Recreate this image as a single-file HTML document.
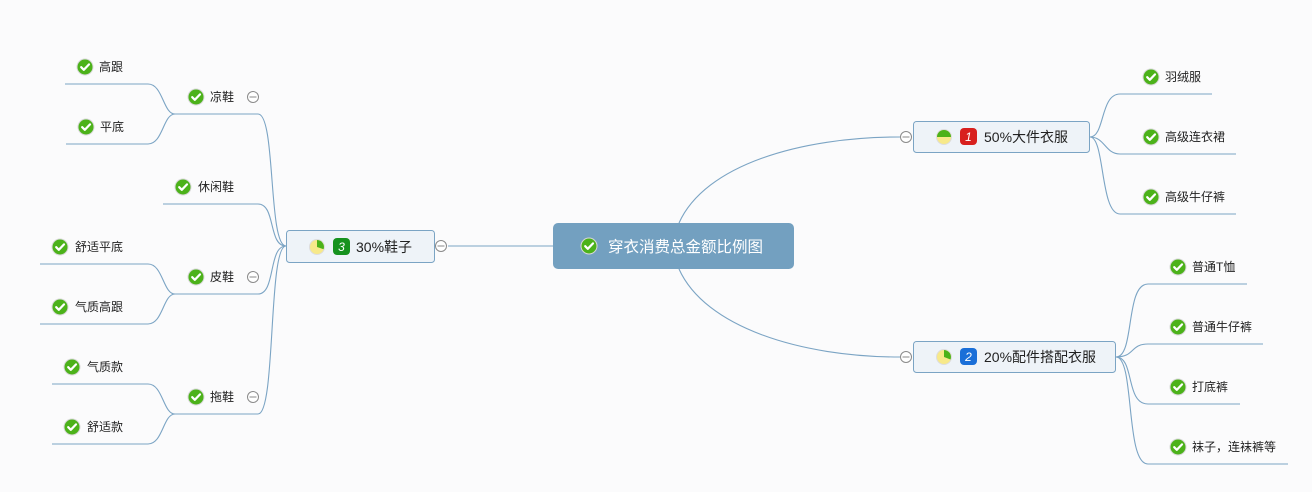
<!DOCTYPE html>
<html><head><meta charset="utf-8">
<style>
html,body{margin:0;padding:0;background:#fbfbfc;}
svg{display:block;}
text{font-family:"Liberation Sans","Microsoft YaHei","Noto Sans CJK SC",sans-serif;}
</style></head>
<body>
<svg width="1312" height="492" viewBox="0 0 1312 492" xmlns="http://www.w3.org/2000/svg">
<defs>
 <g id="chk">
  <circle r="8.5" fill="#d8d8d8"/>
  <circle r="7.5" fill="#4cb21a"/>
  <path d="M-3.8,0.2 L-1.2,2.8 L4,-2.6" stroke="#fff" stroke-width="2.2" fill="none" stroke-linecap="round" stroke-linejoin="round"/>
 </g>
 <g id="col">
  <circle r="5.5" fill="#fff" stroke="#8a8a8a" stroke-width="1"/>
  <line x1="-3.5" y1="0" x2="3.5" y2="0" stroke="#8a8a8a" stroke-width="1"/>
 </g>
</defs>
<g fill="none" stroke="#7ba4c4" stroke-width="1.1">
 <!-- center connectors -->
 <path d="M448,246 H553"/>
 <path d="M679,223 C705,165 800,137 900,137"/>
 <path d="M679,269 C705,327 800,357 900,357"/>
 <!-- left -->
 <path d="M65,84 H148 C163,84 163,114 175,114"/>
 <path d="M66,144 H148 C163,144 163,114 175,114"/>
 <path d="M175,114 H258 C276,114 268,246 286,246"/>
 <path d="M163,204 H258 C276,204 268,246 286,246"/>
 <path d="M40,264 H148 C163,264 163,294 175,294"/>
 <path d="M40,324 H148 C163,324 163,294 175,294"/>
 <path d="M175,294 H258 C276,294 268,246 286,246"/>
 <path d="M52,384 H148 C163,384 163,414 175,414"/>
 <path d="M52,444 H148 C163,444 163,414 175,414"/>
 <path d="M175,414 H258 C276,414 268,246 286,246"/>
 <!-- right top -->
 <path d="M1090,137 C1105,137 1100,94 1120,94 H1212"/>
 <path d="M1090,137 C1105,137 1105,154 1120,154 H1236"/>
 <path d="M1090,137 C1105,137 1100,214 1120,214 H1236"/>
 <!-- right bottom -->
 <path d="M1116,357 C1135,357 1125,284 1148,284 H1247"/>
 <path d="M1116,357 C1135,357 1130,344 1148,344 H1263"/>
 <path d="M1116,357 C1135,357 1125,404 1148,404 H1240"/>
 <path d="M1116,357 C1135,357 1125,464 1148,464 H1288"/>
</g>
<!-- central -->
<rect x="553" y="223" width="241" height="46" rx="5" fill="#73a0c0"/>
<use href="#chk" x="589" y="246"/>
<text x="608" y="252" font-size="15.5" fill="#fff">穿衣消费总金额比例图</text>
<!-- left main -->
<rect x="286.5" y="230.5" width="148" height="32" rx="3" fill="#eef3f8" stroke="#7ba4c4"/>
<circle cx="317" cy="247" r="8" fill="#ddd"/>
<circle cx="317" cy="247" r="7" fill="#f7e98a"/>
<path d="M317,247 L317,240 A7,7 0 0 1 323.6,249.3 Z" fill="#4cb21a"/>
<rect x="333" y="238" width="17" height="17" rx="4" fill="#16921e"/>
<text x="341.5" y="251" font-size="12" fill="#fff" text-anchor="middle" font-style="italic">3</text>
<text x="356" y="252" font-size="14" fill="#222">30%鞋子</text>
<use href="#col" x="441" y="246"/>
<!-- right top main -->
<rect x="913.5" y="121.5" width="176" height="31" rx="3" fill="#eef3f8" stroke="#7ba4c4"/>
<circle cx="944" cy="137" r="8" fill="#ddd"/>
<circle cx="944" cy="137" r="7" fill="#f7e98a"/>
<path d="M937,137 A7,7 0 0 1 951,137 Z" fill="#4cb21a"/>
<rect x="960" y="128" width="17" height="17" rx="4" fill="#d8201e"/>
<text x="968.5" y="141" font-size="12" fill="#fff" text-anchor="middle" font-style="italic">1</text>
<text x="984" y="142" font-size="14" fill="#222">50%大件衣服</text>
<use href="#col" x="906" y="137"/>
<!-- right bottom main -->
<rect x="913.5" y="341.5" width="202" height="31" rx="3" fill="#eef3f8" stroke="#7ba4c4"/>
<circle cx="944" cy="357" r="8" fill="#ddd"/>
<circle cx="944" cy="357" r="7" fill="#f7e98a"/>
<path d="M944,357 L944,350 A7,7 0 0 1 950.5,359.5 Z" fill="#4cb21a"/>
<rect x="960" y="348" width="17" height="17" rx="4" fill="#1a6fd8"/>
<text x="968.5" y="361" font-size="12" fill="#fff" text-anchor="middle" font-style="italic">2</text>
<text x="984" y="362" font-size="14" fill="#222">20%配件搭配衣服</text>
<use href="#col" x="906" y="357"/>
<!-- leaves -->
<g font-size="12" fill="#222">
 <use href="#chk" x="85" y="67"/><text x="99" y="71">高跟</text>
 <use href="#chk" x="86" y="127"/><text x="100" y="131">平底</text>
 <use href="#chk" x="196" y="97"/><text x="210" y="101">凉鞋</text><use href="#col" x="253" y="97"/>
 <use href="#chk" x="183" y="187"/><text x="198" y="191">休闲鞋</text>
 <use href="#chk" x="60" y="247"/><text x="75" y="251">舒适平底</text>
 <use href="#chk" x="60" y="307"/><text x="75" y="311">气质高跟</text>
 <use href="#chk" x="196" y="277"/><text x="210" y="281">皮鞋</text><use href="#col" x="253" y="277"/>
 <use href="#chk" x="72" y="367"/><text x="87" y="371">气质款</text>
 <use href="#chk" x="72" y="427"/><text x="87" y="431">舒适款</text>
 <use href="#chk" x="196" y="397"/><text x="210" y="401">拖鞋</text><use href="#col" x="253" y="397"/>
 <use href="#chk" x="1151" y="77"/><text x="1165" y="81">羽绒服</text>
 <use href="#chk" x="1151" y="137"/><text x="1165" y="141">高级连衣裙</text>
 <use href="#chk" x="1151" y="197"/><text x="1165" y="201">高级牛仔裤</text>
 <use href="#chk" x="1178" y="267"/><text x="1192" y="271">普通T恤</text>
 <use href="#chk" x="1178" y="327"/><text x="1192" y="331">普通牛仔裤</text>
 <use href="#chk" x="1178" y="387"/><text x="1192" y="391">打底裤</text>
 <use href="#chk" x="1178" y="447"/><text x="1192" y="451">袜子，连袜裤等</text>
</g>
</svg>
</body></html>
